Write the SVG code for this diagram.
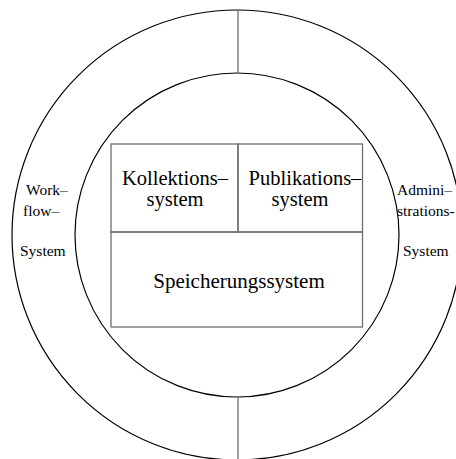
<svg xmlns="http://www.w3.org/2000/svg" width="456" height="459" viewBox="0 0 456 459">
<style>
.c{fill:none;stroke:#000;stroke-width:1.2}
.g{fill:none;stroke:#6e6e6e;stroke-width:1.3}
.t{font-family:"Liberation Serif","Times New Roman",serif;fill:#000}
.m{font-size:20.5px;text-anchor:middle}
.s{font-size:15.5px}
</style>
<rect width="456" height="459" fill="#fff"/>
<g id="outer-ring"><circle class="c" cx="237" cy="235" r="225"/></g>
<g id="inner-ring"><circle class="c" cx="237" cy="235" r="162"/></g>
<g id="connectors">
<line class="g" x1="238" y1="10" x2="238" y2="73"/>
<line class="g" x1="238" y1="397" x2="238" y2="459"/>
</g>
<g id="kollektionssystem">
<rect class="g" x="111" y="144" width="127" height="88"/>
<text class="t m" x="175" y="185">Kollektions–</text>
<text class="t m" x="175" y="206">system</text>
</g>
<g id="publikationssystem">
<rect class="g" x="238" y="144" width="124.5" height="88"/>
<text class="t m" x="305" y="185">Publikations–</text>
<text class="t m" x="300" y="206">system</text>
</g>
<g id="speicherungssystem">
<rect class="g" x="111" y="232" width="251.5" height="95"/>
<text class="t m" x="239" y="288" style="font-size:21px">Speicherungssystem</text>
</g>
<g id="workflow-system">
<text class="t s" x="26" y="195">Work–</text>
<text class="t s" x="23" y="216">flow–</text>
<text class="t s" x="20" y="256">System</text>
</g>
<g id="administrations-system">
<text class="t s" x="397" y="195">Admini–</text>
<text class="t s" x="397" y="216">strations-</text>
<text class="t s" x="403" y="256">System</text>
</g>
</svg>
